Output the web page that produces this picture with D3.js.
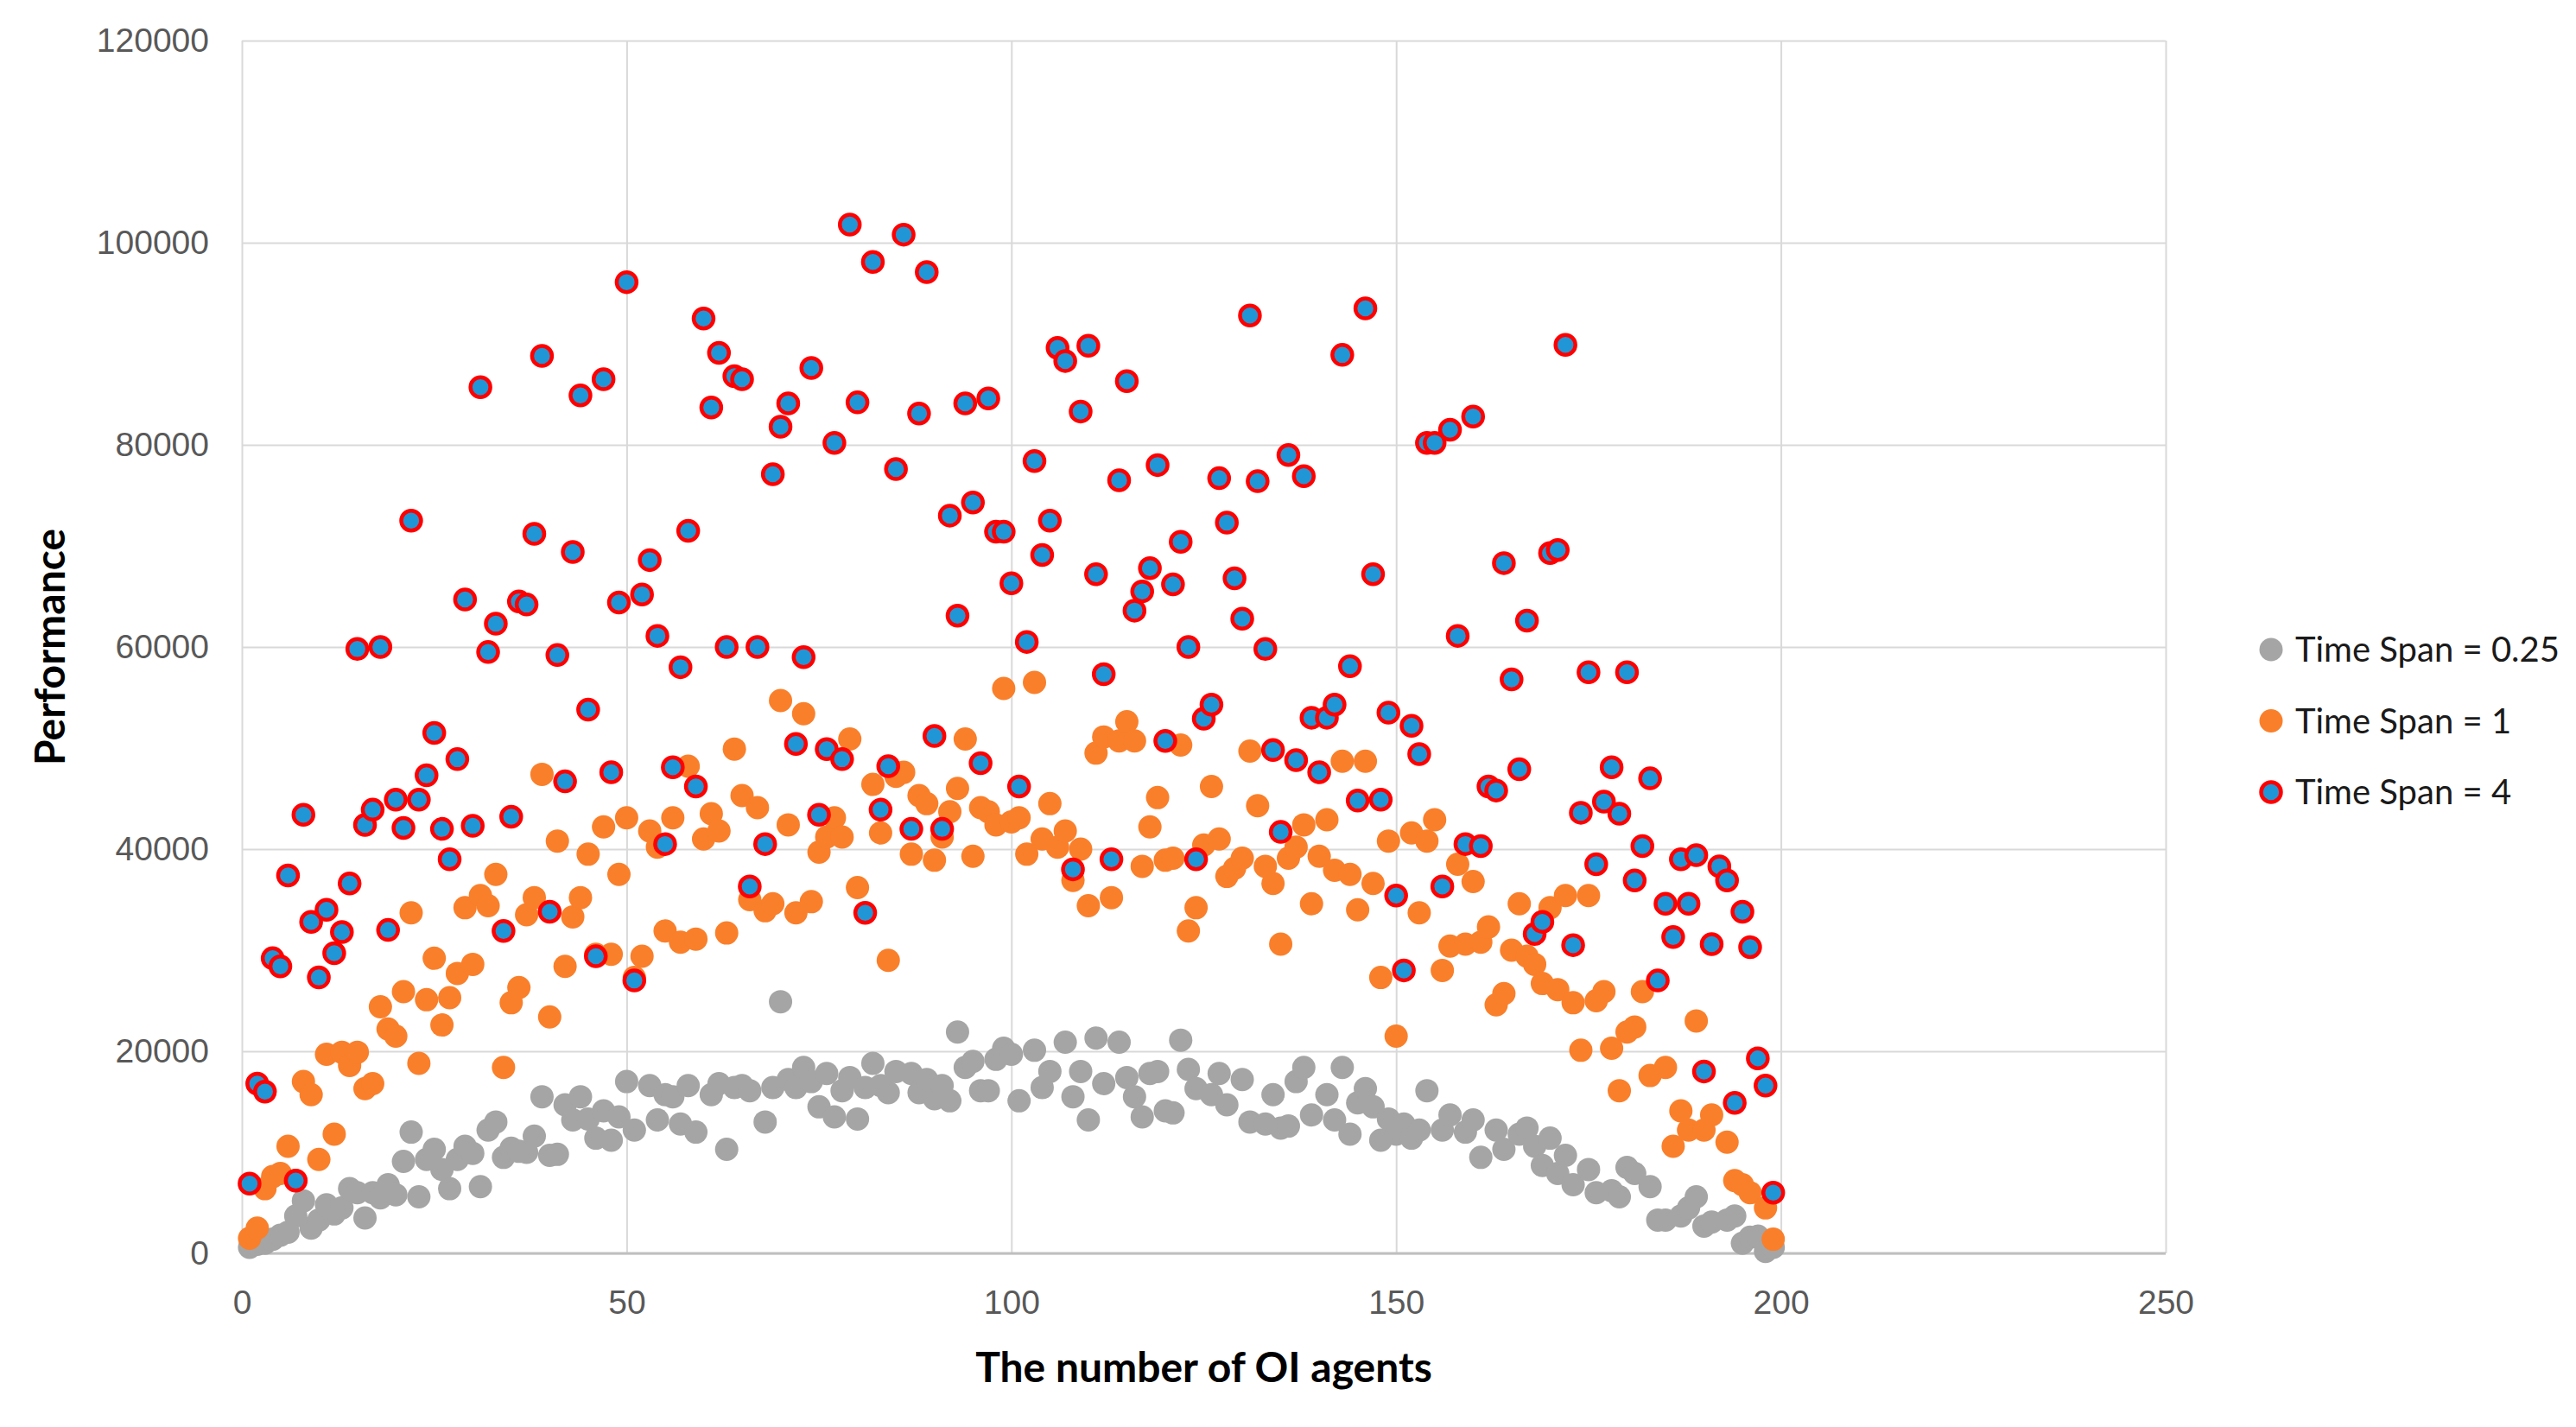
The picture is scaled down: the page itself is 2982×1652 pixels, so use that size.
<!DOCTYPE html>
<html><head>
<meta charset="utf-8">
<title>Performance vs number of OI agents</title>
<script src="https://d3js.org/d3.v7.min.js"></script>
<style>
  body { margin: 0; background: #fff; }
  svg { display: block; font-family: Lato, "Open Sans", sans-serif; }
  .gridlines line { stroke: #d9d9d9; stroke-width: 2px; }
  .gridlines .domain { stroke: none; }
  .ticklabels text { fill: #595959; font-size: 39px; }
  .ticklabels line, .ticklabels .domain { stroke: none; }
  .title { font-weight: 700; font-size: 48px; fill: #000; }
  .legend text { font-size: 40px; fill: #1a1a1a; }
</style>
</head>
<body>
<svg id="chart" width="2982" height="1652"></svg>
<script>
// values: [agents, performance]
const spanQuarter = [
  [1,600],[2,900],[3,1000],[4,1400],[5,1800],[6,2100],[7,3700],[8,5200],[9,2500],[10,3300],
  [11,4800],[12,3900],[13,4500],[14,6400],[15,6000],[16,3500],[17,6000],[18,5500],[19,6800],[20,5800],
  [21,9100],[22,12000],[23,5600],[24,9300],[25,10300],[26,8300],[27,6400],[28,9300],[29,10600],[30,9900],
  [31,6600],[32,12200],[33,13000],[34,9500],[35,10400],[36,10100],[37,10000],[38,11600],[39,15500],[40,9700],
  [41,9800],[42,14700],[43,13200],[44,15500],[45,13300],[46,11400],[47,14100],[48,11200],[49,13500],[50,17000],
  [51,12200],[53,16600],[54,13200],[55,15700],[56,15500],[57,12800],[58,16600],[59,12000],[61,15700],[62,16800],
  [63,10300],[64,16400],[65,16600],[66,16100],[68,13000],[69,16400],[70,24900],[71,17200],[72,16400],[73,18400],
  [74,17000],[75,14500],[76,17800],[77,13500],[78,16100],[79,17400],[80,13300],[81,16400],[82,18800],[83,16600],
  [84,15900],[85,18000],[87,17800],[88,15900],[89,17200],[90,15300],[91,16600],[92,15100],[93,21900],[94,18400],
  [95,19000],[96,16100],[97,16100],[98,19200],[99,20300],[100,19700],[101,15100],[103,20100],[104,16400],[105,18000],
  [107,20900],[108,15500],[109,18000],[110,13200],[111,21300],[112,16800],[114,20900],[115,17400],[116,15500],[117,13500],
  [118,17800],[119,18000],[120,14100],[121,13900],[122,21100],[123,18200],[124,16300],[126,15700],[127,17800],[128,14700],
  [130,17200],[131,13000],[133,12800],[134,15700],[135,12400],[136,12600],[137,17000],[138,18400],[139,13700],[141,15700],
  [142,13200],[143,18400],[144,11800],[145,14900],[146,16300],[147,14500],[148,11200],[149,13300],[150,11800],[151,12800],
  [152,11400],[153,12200],[154,16100],[156,12200],[157,13700],[159,12000],[160,13200],[161,9500],[163,12200],[164,10300],
  [166,11800],[167,12400],[168,10600],[169,8700],[170,11400],[171,7900],[172,9700],[173,6800],[175,8300],[176,6000],
  [178,6200],[179,5600],[180,8500],[181,7900],[183,6600],[184,3300],[185,3300],[187,3700],[188,4500],[189,5600],
  [190,2700],[191,3100],[193,3300],[194,3700],[195,1000],[196,1600],[197,1700],[198,200],[199,600]
];

const spanOne = [
  [1,1500],[2,2500],[3,6400],[4,7600],[5,7900],[6,10600],[7,7200],[8,17000],[9,15700],[10,9300],
  [11,19700],[12,11800],[13,19900],[14,18600],[15,19900],[16,16300],[17,16800],[18,24400],[19,22200],[20,21500],
  [21,25900],[22,33700],[23,18800],[24,25100],[25,29200],[26,22600],[27,25300],[28,27700],[29,34200],[30,28600],
  [31,35400],[32,34400],[33,37500],[34,18400],[35,24800],[36,26300],[37,33500],[38,35200],[39,47400],[40,23400],
  [41,40800],[42,28400],[43,33300],[44,35200],[45,39500],[46,29600],[47,42200],[48,29600],[49,37500],[50,43100],
  [51,27300],[52,29400],[53,41800],[54,40200],[55,31900],[56,43100],[57,30800],[58,48200],[59,31100],[60,41000],
  [61,43500],[62,41800],[63,31700],[64,49900],[65,45300],[66,35000],[67,44100],[68,33900],[69,34600],[70,54700],
  [71,42400],[72,33700],[73,53400],[74,34800],[75,39700],[76,41200],[77,43100],[78,41200],[79,50900],[80,36200],
  [82,46400],[83,41600],[84,29000],[85,47200],[86,47600],[87,39500],[88,45300],[89,44500],[90,38900],[91,41200],
  [92,43700],[93,46000],[94,50900],[95,39300],[96,44100],[97,43700],[98,42400],[99,55900],[100,42700],[101,43100],
  [102,39500],[103,56500],[104,41000],[105,44500],[106,40200],[107,41800],[108,36900],[109,40000],[110,34400],[111,49500],
  [112,51100],[113,35200],[114,50700],[115,52600],[116,50700],[117,38300],[118,42200],[119,45100],[120,38900],[121,39100],
  [122,50300],[123,31900],[124,34200],[125,40400],[126,46200],[127,41000],[128,37300],[129,38100],[130,39100],[131,49700],
  [132,44300],[133,38300],[134,36600],[135,30600],[136,39100],[137,40200],[138,42400],[139,34600],[140,39300],[141,42900],
  [142,37900],[143,48700],[144,37500],[145,34000],[146,48700],[147,36600],[148,27300],[149,40800],[150,21500],[152,41600],
  [153,33700],[154,40800],[155,42900],[156,28000],[157,30400],[158,38500],[159,30600],[160,36800],[161,30800],[162,32300],
  [163,24600],[164,25700],[165,30000],[166,34600],[167,29400],[168,28600],[169,26700],[170,34200],[171,26100],[172,35400],
  [173,24800],[174,20100],[175,35400],[176,25000],[177,25900],[178,20300],[179,16100],[180,21900],[181,22400],[182,25900],
  [183,17600],[185,18400],[186,10600],[187,14100],[188,12200],[189,23000],[190,12200],[191,13700],[193,11000],[194,7200],
  [195,6800],[196,6000],[198,4500],[199,1400]
];

const spanFour = [
  [1,6900],[2,16800],[3,16000],[4,29200],[5,28400],[6,37400],[7,7200],[8,43400],[9,32800],[10,27300],
  [11,34000],[12,29700],[13,31800],[14,36600],[15,59800],[16,42400],[17,43900],[18,60000],[19,32000],[20,44900],
  [21,42100],[22,72500],[23,44900],[24,47300],[25,51500],[26,42000],[27,39000],[28,48900],[29,64700],[30,42300],
  [31,85700],[32,59500],[33,62300],[34,31900],[35,43200],[36,64500],[37,64200],[38,71200],[39,88800],[40,33800],
  [41,59200],[42,46700],[43,69400],[44,84900],[45,53800],[46,29400],[47,86500],[48,47600],[49,64400],[50,96100],
  [51,27000],[52,65200],[53,68600],[54,61100],[55,40500],[56,48100],[57,58000],[58,71500],[59,46200],[60,92500],
  [61,83700],[62,89100],[63,60000],[64,86800],[65,86500],[66,36300],[67,60000],[68,40500],[69,77100],[70,81800],
  [71,84100],[72,50400],[73,59000],[74,87600],[75,43400],[76,49900],[77,80200],[78,48900],[79,101800],[80,84200],
  [81,33700],[82,98100],[83,43900],[84,48200],[85,77600],[86,100800],[87,42000],[88,83100],[89,97100],[90,51200],
  [91,42000],[92,73000],[93,63100],[94,84100],[95,74300],[96,48500],[97,84600],[98,71400],[99,71400],[100,66300],
  [101,46200],[102,60500],[103,78400],[104,69100],[105,72500],[106,89600],[107,88300],[108,38000],[109,83300],[110,89800],
  [111,67200],[112,57300],[113,39000],[114,76500],[115,86300],[116,63600],[117,65500],[118,67800],[119,78000],[120,50700],
  [121,66200],[122,70400],[123,60000],[124,39000],[125,52900],[126,54300],[127,76700],[128,72300],[129,66800],[130,62800],
  [131,92800],[132,76400],[133,59800],[134,49800],[135,41700],[136,79000],[137,48800],[138,76900],[139,53000],[140,47600],
  [141,53000],[142,54300],[143,88900],[144,58100],[145,44800],[146,93500],[147,67200],[148,44900],[149,53500],[150,35400],
  [151,28000],[152,52200],[153,49400],[154,80200],[155,80200],[156,36300],[157,81500],[158,61100],[159,40500],[160,82800],
  [161,40300],[162,46200],[163,45800],[164,68300],[165,56800],[166,47900],[167,62600],[168,31600],[169,32800],[170,69300],
  [171,69600],[172,89900],[173,30500],[174,43600],[175,57500],[176,38500],[177,44700],[178,48100],[179,43500],[180,57500],
  [181,36900],[182,40300],[183,47000],[184,27000],[185,34600],[186,31300],[187,39000],[188,34600],[189,39400],[190,18000],
  [191,30600],[192,38300],[193,36900],[194,14900],[195,33800],[196,30300],[197,19300],[198,16600],[199,6000]
];

const seriesNames = ["Time Span = 0.25", "Time Span = 1", "Time Span = 4"];
const xTicks = [0, 50, 100, 150, 200, 250];
const yTicks = [0, 20000, 40000, 60000, 80000, 100000, 120000];

const svg = d3.select("svg#chart");
const margin = { top: 47, left: 280, right: 475, bottom: 201 };
const width = +svg.attr("width");
const height = +svg.attr("height");
const chartWidth = width - margin.left - margin.right;
const chartHeight = height - margin.top - margin.bottom;

const xScale = d3.scaleLinear().domain([0, 250]).range([0, chartWidth]);
const yScale = d3.scaleLinear().domain([0, 120000]).range([chartHeight, 0]);

const chartArea = svg.append("g").attr("transform", "translate(" + margin.left + "," + margin.top + ")");

// gridlines
chartArea.append("g").attr("class", "gridlines")
  .call(d3.axisLeft(yScale).tickValues(yTicks).tickSize(-chartWidth).tickFormat(""));
chartArea.append("g").attr("class", "gridlines")
  .attr("transform", "translate(0," + chartHeight + ")")
  .call(d3.axisBottom(xScale).tickValues(xTicks).tickSize(-chartHeight).tickFormat(""));

// bottom axis line
chartArea.append("line")
  .attr("x1", 0).attr("x2", chartWidth)
  .attr("y1", chartHeight).attr("y2", chartHeight)
  .attr("stroke", "#bfbfbf").attr("stroke-width", 3);

// tick labels
chartArea.append("g").attr("class", "ticklabels")
  .attr("transform", "translate(-38,0)")
  .call(d3.axisLeft(yScale).tickValues(yTicks).tickSize(0).tickPadding(0).tickFormat(d3.format("d")));
chartArea.append("g").attr("class", "ticklabels")
  .attr("transform", "translate(0," + (chartHeight + 42) + ")")
  .call(d3.axisBottom(xScale).tickValues(xTicks).tickSize(0).tickPadding(0).tickFormat(d3.format("d")));

// axis titles
svg.append("text").attr("class", "title")
  .attr("x", margin.left + chartWidth / 2).attr("y", 1600)
  .attr("text-anchor", "middle")
  .text("The number of OI agents");
svg.append("text").attr("class", "title")
  .attr("transform", "translate(75," + (margin.top + chartHeight / 2) + ") rotate(-90)")
  .attr("text-anchor", "middle")
  .text("Performance");

// marker styles per series
const styles = [
  { r: 13.5, fill: "#a5a5a5", stroke: "none", sw: 0 },
  { r: 13.5, fill: "#fa7f2a", stroke: "none", sw: 0 },
  { r: 11.5, fill: "#2196d6", stroke: "#ff0000", sw: 4.5 }
];
const allSeries = [spanQuarter, spanOne, spanFour];

allSeries.forEach((data, i) => {
  chartArea.append("g").selectAll("circle").data(data)
    .join("circle")
    .attr("cx", d => xScale(d[0]))
    .attr("cy", d => yScale(d[1]))
    .attr("r", styles[i].r)
    .attr("fill", styles[i].fill)
    .attr("stroke", styles[i].stroke)
    .attr("stroke-width", styles[i].sw);
});

// legend
const legend = svg.append("g").attr("class", "legend")
  .attr("transform", "translate(2629,752)");
seriesNames.forEach((name, i) => {
  const row = legend.append("g").attr("transform", "translate(0," + (i * 82.5) + ")");
  row.append("circle")
    .attr("r", styles[i].r)
    .attr("fill", styles[i].fill)
    .attr("stroke", styles[i].stroke)
    .attr("stroke-width", styles[i].sw);
  row.append("text")
    .attr("x", 28).attr("dy", "0.36em")
    .text(name);
});
</script>
</body>
</html>
